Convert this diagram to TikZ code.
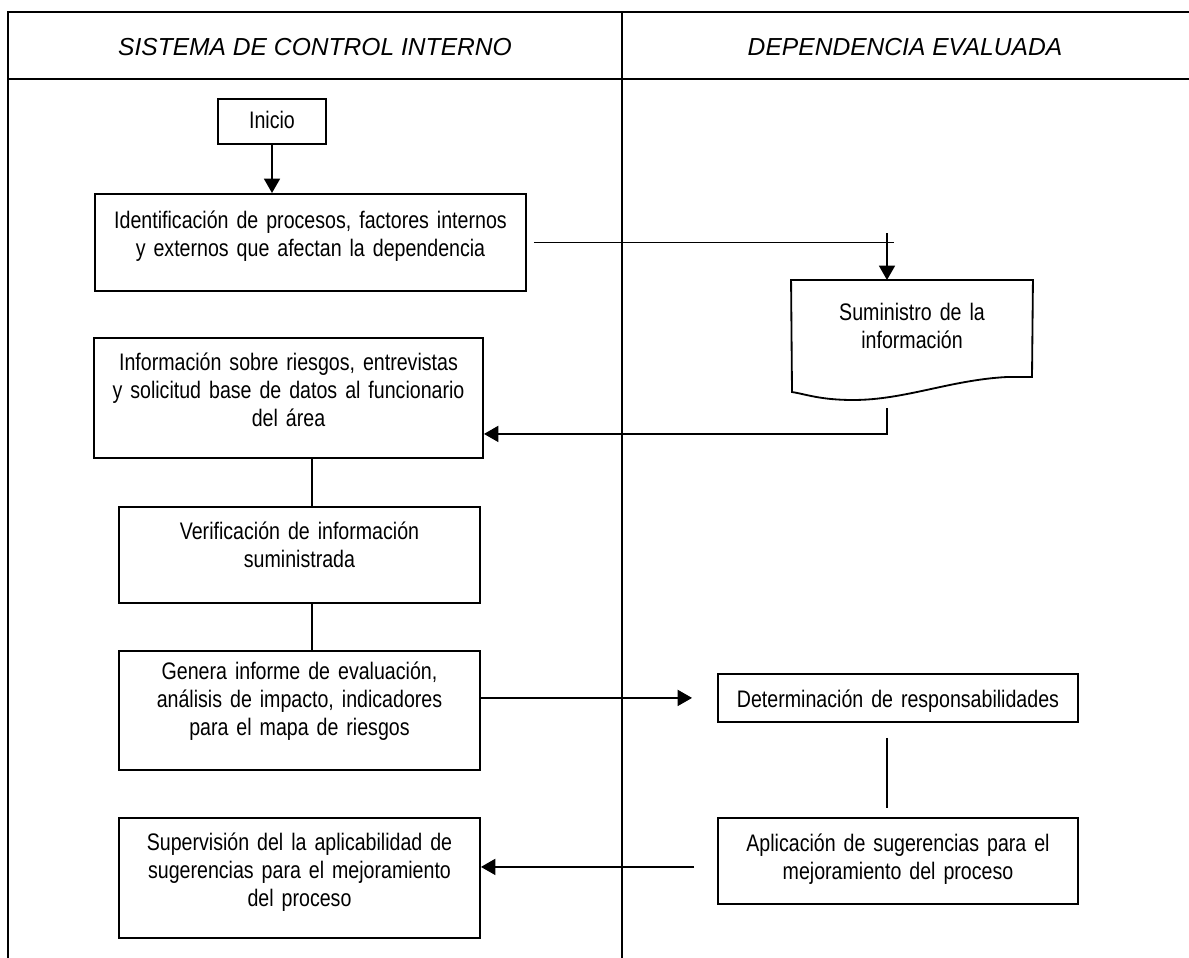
\documentclass[tikz,border=0pt]{standalone}
\usepackage{fontspec}
\setmainfont{Liberation Sans}[FakeStretch=0.82]
\newfontfamily\cabecerafont{Liberation Sans}
\usetikzlibrary{arrows.meta}

\begin{document}
\begin{tikzpicture}[
    x=0.025cm, y=-0.025cm,
    >={Triangle[length=3.6mm, width=4mm]},
    marco/.style    = {line width=2pt, black},
    caja/.style     = {draw, line width=1.3pt, align=center, inner sep=0pt,
                       anchor=north, font=\fontsize{17}{19.9}\selectfont},
    cabecera/.style = {font=\cabecerafont\itshape\fontsize{17.5}{21}\selectfont},
    linea/.style    = {line width=1.3pt},
    flecha/.style   = {line width=1.3pt, ->},
  ]

  % --- page and swimlane frame -----------------------------------------------
  \useasboundingbox (0,0) rectangle (1189,958);
  \draw[marco] (8,958) -- (8,12) -- (1189,12);
  \draw[marco] (8,79) -- (1189,79);
  \draw[marco] (622,12) -- (622,958);

  \node[cabecera] (col-sci) at (315,47) {SISTEMA DE CONTROL INTERNO};
  \node[cabecera] (col-dep) at (905,47) {DEPENDENCIA EVALUADA};

  % --- left lane: control interno --------------------------------------------
  \node[caja, text width=2.7cm, text height=0.75cm, text depth=0.375cm]
    (inicio) at (272,98) {Inicio};
  \node[caja, text width=10.775cm, text height=0.875cm, text depth=1.55cm]
    (ident) at (310.5,193)
    {Identificación de procesos, factores internos\\
     y externos que afectan la dependencia};
  \node[caja, text width=9.725cm, text height=0.825cm, text depth=2.175cm]
    (info) at (288.5,337)
    {Información sobre riesgos, entrevistas\\
     y solicitud base de datos al funcionario\\ del área};
  \node[caja, text width=9.025cm, text height=0.825cm, text depth=1.575cm]
    (verif) at (299.5,506)
    {Verificación de información\\ suministrada};
  \node[caja, text width=9.025cm, text height=0.725cm, text depth=2.25cm]
    (genera) at (299.5,650)
    {Genera informe de evaluación,\\ análisis de impacto, indicadores\\
     para el mapa de riesgos};
  \node[caja, text width=9.025cm, text height=0.825cm, text depth=2.175cm]
    (superv) at (299.5,817)
    {Supervisión del la aplicabilidad de\\
     sugerencias para el mejoramiento\\ del proceso};

  % --- right lane: dependencia -----------------------------------------------
  \node[caja, draw=none, text width=6cm, text height=1cm, text depth=2.8cm]
    (sumin) at (912,280) {Suministro de la\\ información};
  % document symbol with the wavy lower edge
  \draw[linea] (sumin.north west) -- (sumin.north east) -- (1032,377)
    -- (1007,377) .. controls (950,380) and (905,400) .. (853,400)
    .. controls (820,400) and (805,394) .. (792,392) -- cycle;
  \node[caja, text width=9cm, text height=0.85cm, text depth=0.35cm]
    (det) at (898,673) {Determinación de responsabilidades};
  \node[caja, text width=9cm, text height=0.85cm, text depth=1.3cm]
    (aplic) at (898,817)
    {Aplicación de sugerencias para el\\ mejoramiento del proceso};

  % --- connectors --------------------------------------------------------------
  \coordinate (eje)      at (312,0);
  \coordinate (eje-der)  at (887,0);
  \coordinate (sumin-in) at ([xshift=-0.625cm]sumin.north);
  \coordinate (sumin-out) at (887,408);

  \draw[flecha] (inicio.south) -- (inicio.south |- ident.north);
  \draw[linea] ([xshift=0.175cm]ident.east)
    -- ([xshift=0.175cm]ident.east -| sumin-in);
  \draw[flecha] ([yshift=0.225cm]ident.east -| sumin-in) -- (sumin-in);
  \draw[flecha] (sumin-out) |- ([yshift=-0.9cm]info.east);
  \draw[linea] (info.south -| eje) -- (verif.north -| eje);
  \draw[linea] (verif.south -| eje) -- (genera.north -| eje);
  \draw[flecha, shorten >=0.625cm] (genera.east |- det.west) -- (det.west);
  \draw[linea, shorten <=0.375cm, shorten >=0.225cm]
    (det.south -| eje-der) -- (aplic.north -| eje-der);
  \draw[flecha, shorten <=0.575cm]
    ([yshift=-0.15cm]aplic.west) -- ([yshift=-0.15cm]aplic.west -| superv.east);

\end{tikzpicture}
\end{document}
